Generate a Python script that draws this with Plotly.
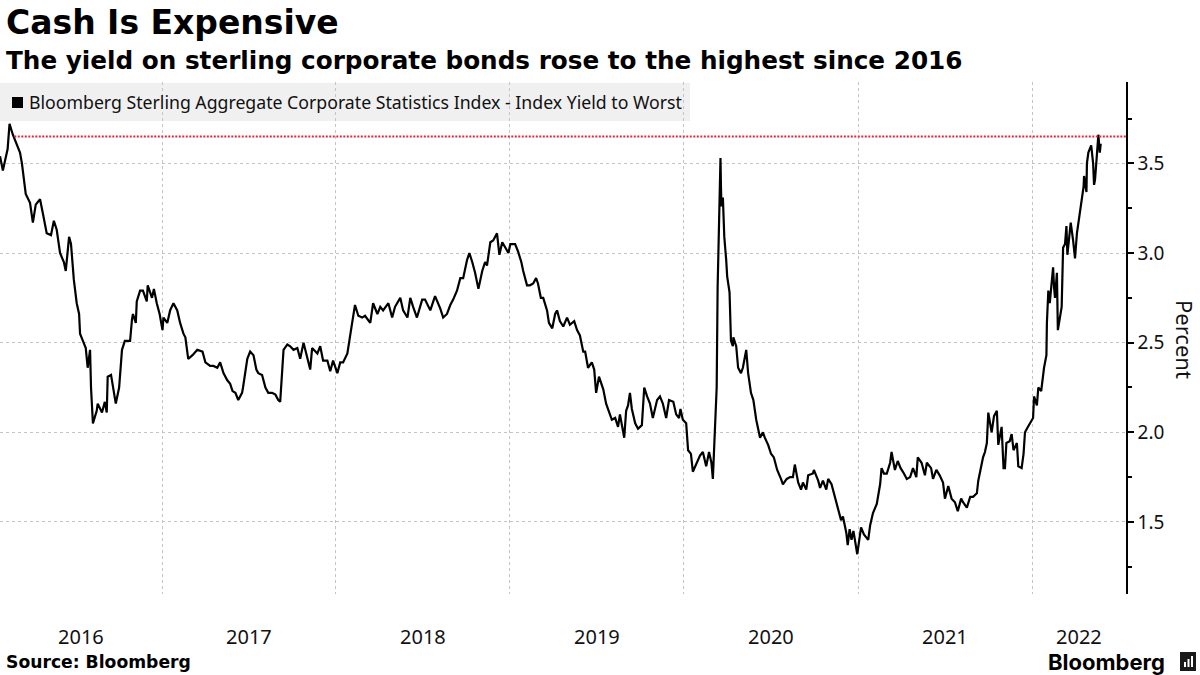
import plotly.graph_objects as go
import pandas as pd

# ---------------- data ----------------
dates_2016 = ["2016-01-27","2016-02-02","2016-02-12","2016-02-16","2016-02-23","2016-03-02","2016-03-09","2016-03-13",
              "2016-03-17","2016-03-21","2016-03-30","2016-04-05","2016-04-11","2016-04-20","2016-04-26","2016-05-04",
              "2016-05-13","2016-05-19","2016-05-25","2016-06-01","2016-06-09","2016-06-13","2016-06-20","2016-06-24",
              "2016-06-30","2016-07-06","2016-07-11","2016-07-13","2016-07-19","2016-07-25","2016-07-29","2016-08-03",
              "2016-08-05","2016-08-09","2016-08-17","2016-08-19","2016-08-28","2016-09-03","2016-09-07","2016-09-09",
              "2016-09-16","2016-09-20","2016-09-26","2016-10-03","2016-10-09","2016-10-15","2016-10-26","2016-10-30",
              "2016-11-01","2016-11-07","2016-11-09","2016-11-16","2016-11-22","2016-11-30","2016-12-02","2016-12-11",
              "2016-12-15","2016-12-21","2016-12-27"]
yield_2016 = [3.54,3.46,3.58,3.72,3.66,3.60,3.56,3.50,
              3.41,3.33,3.28,3.17,3.27,3.30,3.22,3.11,
              3.10,3.18,3.13,3.00,2.95,2.90,3.09,3.05,
              2.85,2.72,2.66,2.55,2.51,2.47,2.36,2.46,
              2.25,2.05,2.12,2.16,2.11,2.17,2.11,2.31,
              2.32,2.25,2.16,2.25,2.46,2.51,2.51,2.63,
              2.66,2.61,2.73,2.79,2.79,2.73,2.82,2.75,
              2.80,2.72,2.66]

dates_2017 = ["2017-01-02","2017-01-04","2017-01-12","2017-01-18","2017-01-25","2017-02-02","2017-02-08","2017-02-15",
              "2017-02-19","2017-02-25","2017-03-06","2017-03-16","2017-03-27","2017-04-02","2017-04-12","2017-04-19",
              "2017-04-27","2017-05-03","2017-05-10","2017-05-18","2017-05-24","2017-05-29","2017-06-04","2017-06-10",
              "2017-06-18","2017-06-20","2017-06-29","2017-07-05","2017-07-12","2017-07-18","2017-07-22","2017-07-30",
              "2017-08-06","2017-08-12","2017-08-20","2017-08-27","2017-09-02","2017-09-06","2017-09-13","2017-09-21",
              "2017-09-27","2017-10-04","2017-10-12","2017-10-18","2017-10-25","2017-11-02","2017-11-08","2017-11-12",
              "2017-11-23","2017-11-29","2017-12-05","2017-12-14","2017-12-20","2017-12-26"]
yield_2017 = [2.57,2.64,2.61,2.68,2.72,2.68,2.61,2.55,
              2.53,2.41,2.43,2.46,2.45,2.39,2.37,2.37,
              2.36,2.39,2.33,2.29,2.27,2.23,2.22,2.18,
              2.22,2.25,2.41,2.45,2.43,2.35,2.33,2.32,
              2.25,2.22,2.22,2.21,2.18,2.17,2.46,2.49,
              2.48,2.46,2.47,2.41,2.50,2.42,2.35,2.47,
              2.44,2.48,2.40,2.40,2.34,2.40]

dates_2018 = ["2018-01-04","2018-01-10","2018-01-16","2018-01-25","2018-01-31","2018-02-04","2018-02-10","2018-02-17",
              "2018-02-25","2018-03-03","2018-03-14","2018-03-20","2018-03-29","2018-04-04","2018-04-10","2018-04-21",
              "2018-04-29","2018-05-05","2018-05-16","2018-05-22","2018-05-31","2018-06-06","2018-06-12","2018-06-20",
              "2018-07-01","2018-07-07","2018-07-18","2018-07-28","2018-08-08","2018-08-14","2018-08-22","2018-08-29",
              "2018-09-04","2018-09-12","2018-09-19","2018-09-25","2018-10-03","2018-10-08","2018-10-14","2018-10-20",
              "2018-10-27","2018-11-04","2018-11-10","2018-11-14","2018-11-21","2018-11-27","2018-12-05","2018-12-10",
              "2018-12-16","2018-12-22","2018-12-29"]
yield_2018 = [2.33,2.39,2.39,2.44,2.53,2.61,2.71,2.65,
              2.64,2.65,2.61,2.72,2.66,2.70,2.68,2.72,
              2.64,2.70,2.75,2.68,2.64,2.75,2.70,2.64,
              2.74,2.74,2.68,2.76,2.69,2.64,2.66,2.71,
              2.74,2.79,2.86,2.86,2.96,3.00,2.95,2.89,
              2.80,2.90,2.95,2.93,3.06,3.07,3.11,2.99,
              3.06,3.03,3.00]

dates_2019 = ["2019-01-02","2019-01-12","2019-01-18","2019-01-25","2019-01-29","2019-02-06","2019-02-12","2019-02-19",
              "2019-02-25","2019-03-01","2019-03-07","2019-03-12","2019-03-20","2019-03-24","2019-03-31","2019-04-06",
              "2019-04-10","2019-04-16","2019-04-23","2019-05-01","2019-05-07","2019-05-16","2019-05-22","2019-05-28",
              "2019-06-04","2019-06-08","2019-06-14","2019-06-22","2019-06-27","2019-07-01","2019-07-07","2019-07-16",
              "2019-07-22","2019-07-28","2019-08-03","2019-08-10","2019-08-16","2019-08-20","2019-08-27","2019-08-29",
              "2019-09-02","2019-09-06","2019-09-10","2019-09-14","2019-09-21","2019-09-27","2019-10-05","2019-10-10",
              "2019-10-16","2019-10-22","2019-10-28","2019-11-06","2019-11-12","2019-11-18","2019-11-25","2019-12-01",
              "2019-12-10","2019-12-16","2019-12-22","2019-12-25","2019-12-30"]
yield_2019 = [3.05,3.05,3.01,2.95,2.90,2.82,2.82,2.83,
              2.86,2.83,2.75,2.75,2.68,2.61,2.58,2.66,
              2.68,2.62,2.59,2.64,2.60,2.62,2.57,2.54,
              2.45,2.45,2.36,2.39,2.35,2.22,2.31,2.24,
              2.16,2.12,2.07,2.08,2.03,2.10,2.01,1.97,
              2.12,2.15,2.22,2.13,2.05,2.02,2.04,2.25,
              2.20,2.16,2.08,2.18,2.20,2.16,2.08,2.18,
              2.17,2.10,2.08,2.13,2.07]

dates_2020 = ["2020-01-06","2020-01-10","2020-01-16","2020-01-20","2020-01-29","2020-02-04","2020-02-10","2020-02-17",
              "2020-02-23","2020-02-28","2020-03-02","2020-03-06","2020-03-10","2020-03-12","2020-03-16","2020-03-18",
              "2020-03-19","2020-03-20","2020-03-23","2020-03-24","2020-03-26","2020-03-30","2020-04-01","2020-04-06",
              "2020-04-09","2020-04-13","2020-04-14","2020-04-20","2020-04-24","2020-04-30","2020-05-04","2020-05-11",
              "2020-05-15","2020-05-21","2020-05-26","2020-06-01","2020-06-05","2020-06-09","2020-06-15","2020-06-19",
              "2020-06-26","2020-07-02","2020-07-08","2020-07-15","2020-07-23","2020-07-27","2020-08-04","2020-08-11",
              "2020-08-17","2020-08-21","2020-08-28","2020-09-03","2020-09-07","2020-09-14","2020-09-18","2020-09-28",
              "2020-09-30","2020-10-09","2020-10-13","2020-10-19","2020-10-26","2020-10-30","2020-11-06","2020-11-13",
              "2020-11-19","2020-11-26","2020-11-30","2020-12-07","2020-12-10","2020-12-14","2020-12-18","2020-12-22",
              "2020-12-30"]
yield_2020 = [2.05,1.90,1.88,1.78,1.84,1.87,1.89,1.81,
              1.89,1.83,1.74,1.96,2.25,2.81,3.37,3.53,
              3.37,3.26,3.31,3.24,3.09,2.96,2.87,2.78,
              2.51,2.48,2.53,2.48,2.36,2.33,2.36,2.46,
              2.33,2.22,2.18,2.07,2.01,1.97,2.00,1.97,
              1.93,1.88,1.86,1.79,1.74,1.71,1.74,1.75,
              1.75,1.82,1.72,1.68,1.72,1.68,1.76,1.77,
              1.79,1.73,1.69,1.73,1.68,1.74,1.71,1.64,
              1.58,1.51,1.53,1.44,1.37,1.46,1.40,1.45,
              1.32]

dates_2021 = ["2021-01-04","2021-01-07","2021-01-13","2021-01-22","2021-01-26","2021-02-01","2021-02-09","2021-02-16",
              "2021-02-19","2021-02-24","2021-03-02","2021-03-09","2021-03-12","2021-03-19","2021-03-25","2021-03-31",
              "2021-04-07","2021-04-13","2021-04-20","2021-04-26","2021-05-03","2021-05-06","2021-05-14","2021-05-21",
              "2021-05-25","2021-06-03","2021-06-07","2021-06-14","2021-06-21","2021-06-28","2021-07-02","2021-07-06",
              "2021-07-09","2021-07-16","2021-07-23","2021-07-29","2021-08-05","2021-08-09","2021-08-17","2021-08-24",
              "2021-08-30","2021-09-07","2021-09-10","2021-09-20","2021-09-24","2021-09-28","2021-10-01","2021-10-08",
              "2021-10-13","2021-10-19","2021-10-22","2021-10-29","2021-11-02","2021-11-05","2021-11-08","2021-11-15",
              "2021-11-19","2021-11-23","2021-11-30","2021-12-03","2021-12-10","2021-12-14","2021-12-17","2021-12-23"]
yield_2021 = [1.40,1.47,1.43,1.40,1.48,1.55,1.60,1.71,
              1.80,1.77,1.77,1.83,1.89,1.79,1.84,1.80,
              1.77,1.74,1.75,1.80,1.75,1.86,1.83,1.76,
              1.83,1.80,1.74,1.79,1.76,1.72,1.63,1.68,
              1.70,1.63,1.61,1.56,1.63,1.61,1.58,1.64,
              1.64,1.66,1.73,1.86,1.89,1.94,2.11,2.00,
              2.09,2.12,1.93,2.03,1.80,1.80,1.94,1.95,
              1.99,1.90,1.94,1.81,1.80,1.88,2.00,2.03]

dates_2022 = ["2022-01-03","2022-01-05","2022-01-11","2022-01-14","2022-01-20","2022-01-26","2022-01-31","2022-02-01",
              "2022-02-04","2022-02-07","2022-02-14","2022-02-16","2022-02-18","2022-02-22","2022-02-24","2022-03-04",
              "2022-03-07","2022-03-11","2022-03-14","2022-03-16","2022-03-23","2022-03-28","2022-04-01","2022-04-05",
              "2022-04-11","2022-04-19","2022-04-20","2022-04-25","2022-04-26","2022-04-29","2022-05-05","2022-05-09",
              "2022-05-11","2022-05-13","2022-05-17","2022-05-20","2022-05-23","2022-05-25"]
yield_2022 = [2.08,2.20,2.15,2.25,2.23,2.36,2.43,2.61,
              2.79,2.72,2.92,2.81,2.75,2.89,2.57,2.70,
              3.03,3.05,3.15,2.99,3.17,3.07,2.97,3.11,
              3.22,3.37,3.43,3.34,3.50,3.56,3.60,3.50,
              3.38,3.41,3.55,3.66,3.56,3.61]

ref_level = 3.65          # "highest since 2016" marker
ref_start = "2016-02-26"
x_start, x_end = "2016-01-27", "2022-07-17"
y_ticks = [1.5, 2.0, 2.5, 3.0, 3.5]
y_range = [1.098, 3.954]
years = [2016, 2017, 2018, 2019, 2020, 2021, 2022]

series_name = "Bloomberg Sterling Aggregate Corporate Statistics Index - Index Yield to Worst"
title = "Cash Is Expensive"
subtitle = "The yield on sterling corporate bonds rose to the highest since 2016"
source = "Source: Bloomberg"

dates = dates_2016 + dates_2017 + dates_2018 + dates_2019 + dates_2020 + dates_2021 + dates_2022
yields = yield_2016 + yield_2017 + yield_2018 + yield_2019 + yield_2020 + yield_2021 + yield_2022

# ---------------- layout helpers (pixel -> paper) ----------------
W, H = 1200, 675
PL, PR, PT, PB = 0, 1126, 82, 594
def px(x): return (x - PL) / (PR - PL)
def py(y): return (PB - y) / (PB - PT)

GRID = "#c4c4c4"
FONT = "Noto Sans"

fig = go.Figure()
fig.add_trace(go.Scatter(x=pd.to_datetime(dates), y=yields, mode="lines",
                         line=dict(color="black", width=2.2), hoverinfo="skip", showlegend=False))
fig.add_trace(go.Scatter(x=pd.to_datetime([ref_start, x_end]), y=[ref_level, ref_level], mode="lines",
                         line=dict(color="#e3263f", width=2, dash="2px,1.5px"),
                         hoverinfo="skip", showlegend=False))

xs, xe = pd.Timestamp(x_start), pd.Timestamp(x_end)
year_starts = [pd.Timestamp(f"{y}-01-01") for y in years if pd.Timestamp(f"{y}-01-01") > xs]

annotations = []
for y in years:
    a = max(pd.Timestamp(f"{y}-01-01"), xs)
    b = min(pd.Timestamp(f"{y + 1}-01-01"), xe)
    c = a + (b - a) / 2
    annotations.append(dict(x=c, y=py(636), xref="x", yref="paper", text=str(y), showarrow=False,
                            xanchor="center", yanchor="middle", font=dict(family=FONT, size=20, color="#111")))

annotations += [
    dict(x=px(4), y=py(22), xref="paper", yref="paper", text=title, showarrow=False, xanchor="left",
         yanchor="middle", font=dict(family="DejaVu Sans", size=33, color="black", weight="bold")),
    dict(x=px(4), y=py(60), xref="paper", yref="paper", text=subtitle, showarrow=False, xanchor="left",
         yanchor="middle", font=dict(family="DejaVu Sans", size=24.7, color="black", weight="bold")),
    dict(x=px(27), y=py(102), xref="paper", yref="paper", text=series_name, showarrow=False, xanchor="left",
         yanchor="middle", font=dict(family=FONT, size=17.7, color="#111")),
    dict(x=px(1185), y=py(339), xref="paper", yref="paper", text="Percent", showarrow=False, textangle=90,
         xanchor="center", yanchor="middle", font=dict(family=FONT, size=22, color="#111")),
    dict(x=px(4), y=py(662), xref="paper", yref="paper", text=source, showarrow=False, xanchor="left",
         yanchor="middle", font=dict(family="DejaVu Sans", size=17.2, color="black", weight="bold")),
    dict(x=px(1167), y=py(662), xref="paper", yref="paper", text="Bloomberg", showarrow=False, xanchor="right",
         yanchor="middle", font=dict(family="Inter", size=22, color="black", weight="bold")),
]

shapes = [
    dict(type="rect", xref="paper", yref="paper", x0=px(0), x1=px(690), y0=py(121), y1=py(83),
         fillcolor="#f0f0f0", line=dict(width=0), layer="below"),
    dict(type="rect", xref="paper", yref="paper", x0=px(12), x1=px(23), y0=py(108), y1=py(97),
         fillcolor="black", line=dict(width=0)),
    # small Bloomberg icon
    dict(type="rect", xref="paper", yref="paper", x0=px(1180), x1=px(1196), y0=py(671), y1=py(652),
         fillcolor="#1a1a1a", line=dict(width=0)),
]
for bx, top in [(1184, 662), (1187.5, 659), (1191, 656)]:
    shapes.append(dict(type="rect", xref="paper", yref="paper", x0=px(bx), x1=px(bx + 2), y0=py(667), y1=py(top),
                       fillcolor="white", line=dict(width=0)))

fig.update_layout(
    width=W, height=H,
    margin=dict(l=PL, r=W - PR, t=PT, b=H - PB, pad=0),
    paper_bgcolor="white", plot_bgcolor="white",
    showlegend=False,
    annotations=annotations, shapes=shapes,
    xaxis=dict(type="date", range=[xs, xe], tickmode="array", tickvals=year_starts,
               showticklabels=False, ticks="", showgrid=True, gridcolor=GRID, griddash="dot", gridwidth=1,
               zeroline=False, showline=False),
    yaxis=dict(side="right", range=y_range, tickmode="array", tickvals=y_ticks,
               ticktext=[f"{v:.1f}" for v in y_ticks], ticks="outside", ticklen=6, tickwidth=1.5,
               tickcolor="black", showline=True, linecolor="black", linewidth=1.5,
               showgrid=True, gridcolor=GRID, griddash="dot", gridwidth=1, zeroline=False,
               tickfont=dict(family=FONT, size=19, color="#111"),
               minor=dict(tickmode="linear", tick0=1.25, dtick=0.5, ticks="outside", ticklen=4,
                          tickwidth=1.5, tickcolor="black", showgrid=False)),
)

fig.write_html("out.html", config={"displayModeBar": False},
               post_script="document.body.style.margin='0px';document.body.style.overflow='hidden';")
